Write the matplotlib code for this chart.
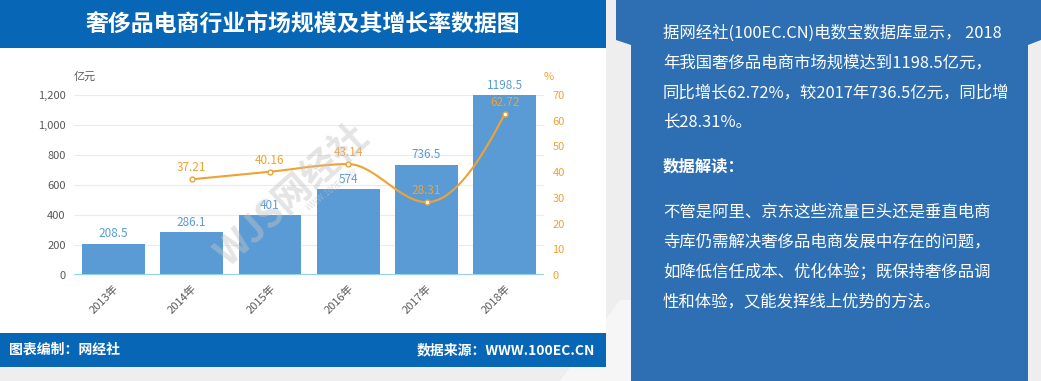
import numpy as np
import matplotlib
matplotlib.use("Agg")
import matplotlib.pyplot as plt
from matplotlib.patches import Rectangle, Polygon

plt.rcParams['font.family'] = ['Noto Sans CJK SC', 'DejaVu Sans']

# 数据
years = ['2013年', '2014年', '2015年', '2016年', '2017年', '2018年']
scale = [208.5, 286.1, 401, 574, 736.5, 1198.5]          # 亿元
growth_years = ['2014年', '2015年', '2016年', '2017年', '2018年']
growth = [37.21, 40.16, 43.14, 28.31, 62.72]              # %
left_ticks = [0, 200, 400, 600, 800, 1000, 1200]
right_ticks = [0, 10, 20, 30, 40, 50, 60, 70]

title = '奢侈品电商行业市场规模及其增长率数据图'
footer_left = '图表编制：网经社'
footer_right = '数据来源：WWW.100EC.CN'
para1 = ['据网经社(100EC.CN)电数宝数据库显示， 2018',
         '年我国奢侈品电商市场规模达到1198.5亿元，',
         '同比增长62.72%，较2017年736.5亿元，同比增',
         '长28.31%。']
subhead = '数据解读：'
para2 = ['不管是阿里、京东这些流量巨头还是垂直电商',
         '寺库仍需解决奢侈品电商发展中存在的问题，',
         '如降低信任成本、优化体验；既保持奢侈品调',
         '性和体验，又能发挥线上优势的方法。']

W, H = 1041, 381
BAR = '#5b9bd5'
ORANGE = '#f0a232'


def pchip(x, y, n=30):
    """保形插值，画平滑折线"""
    x = np.asarray(x, float)
    y = np.asarray(y, float)
    h = np.diff(x)
    delta = np.diff(y) / h
    d = np.zeros_like(y)
    for k in range(1, len(y) - 1):
        if delta[k - 1] * delta[k] > 0:
            w1 = 2 * h[k] + h[k - 1]
            w2 = h[k] + 2 * h[k - 1]
            d[k] = (w1 + w2) / (w1 / delta[k - 1] + w2 / delta[k])
    d[0] = ((2 * h[0] + h[1]) * delta[0] - h[0] * delta[1]) / (h[0] + h[1])
    if d[0] * delta[0] <= 0:
        d[0] = 0
    d[-1] = ((2 * h[-1] + h[-2]) * delta[-1] - h[-1] * delta[-2]) / (h[-1] + h[-2])
    if d[-1] * delta[-1] <= 0:
        d[-1] = 0
    xs, ys = [], []
    for k in range(len(h)):
        t = np.linspace(0, 1, n)
        h00 = 2 * t**3 - 3 * t**2 + 1
        h10 = t**3 - 2 * t**2 + t
        h01 = -2 * t**3 + 3 * t**2
        h11 = t**3 - t**2
        xs.append(x[k] + t * h[k])
        ys.append(h00 * y[k] + h10 * h[k] * d[k] + h01 * y[k + 1] + h11 * h[k] * d[k + 1])
    return np.concatenate(xs), np.concatenate(ys)


fig = plt.figure(figsize=(W / 100, H / 100), dpi=100)
fig.patch.set_facecolor('#eeeeee')

# 背景层，像素坐标
bg = fig.add_axes([0, 0, 1, 1])
bg.set_xlim(0, W)
bg.set_ylim(H, 0)
bg.axis('off')

bg.add_patch(Polygon([(560, 381), (700, 381), (760, 300), (620, 300)], color='white', alpha=0.5, lw=0))
bg.add_patch(Rectangle((0, 0), 606, 367, color='white', lw=0))
bg.add_patch(Rectangle((0, 0), 606, 48, color='#0767b6', lw=0))
bg.add_patch(Rectangle((0, 333), 606, 34, color='#0767b6', lw=0))
bg.text(303, 24, title, color='white', fontsize=16.5, fontweight='bold', ha='center', va='center')
bg.text(9, 350, footer_left, color='white', fontsize=10, fontweight='bold', ha='left', va='center')
bg.text(595, 350, footer_right, color='white', fontsize=10, fontweight='bold', ha='right', va='center')

# 右侧说明框
bg.add_patch(Polygon([(616, 0), (1041, 0), (1041, 40), (1028, 45), (1028, 381),
                      (631, 381), (631, 45), (616, 40)], color='#2e6fb3', lw=0))
for i, line in enumerate(para1):
    bg.text(663, 33 + i * 29.7, line, color='white', fontsize=11.8, ha='left', va='center')
bg.text(663, 167, subhead, color='white', fontsize=11.8, fontweight='bold', ha='left', va='center')
for i, line in enumerate(para2):
    bg.text(663, 212 + i * 29.8, line, color='white', fontsize=11.8, ha='left', va='center')

# 图表
ax = fig.add_axes([74 / W, 1 - 275 / H, 470 / W, 180 / H])
ax.set_facecolor('none')
x = np.arange(len(years))
ax.bar(x, scale, width=0.8, color=BAR, zorder=2)
for xi, v in zip(x, scale):
    ax.text(xi, v + 22, f'{v:g}', color=BAR, fontsize=8.5, ha='center', va='bottom')
ax.set_xlim(-0.5, len(years) - 0.5)
ax.set_ylim(0, 1200)
ax.set_yticks(left_ticks)
ax.set_yticklabels([f'{t:,}' for t in left_ticks])
ax.set_xticks(x)
ax.set_xticklabels(years, rotation=45, ha='right', rotation_mode='anchor')
ax.tick_params(axis='both', length=0, colors='#595959', labelsize=8)
ax.tick_params(axis='x', pad=6)
ax.tick_params(axis='y', pad=6)
for s in ax.spines.values():
    s.set_visible(False)
ax.grid(axis='y', color='#ebebeb', lw=0.8, zorder=0)
ax.axhline(0, color='#8fd3f0', lw=2.2, zorder=3)
ax.text(-0.5, 1290, '亿元', color='#595959', fontsize=8, ha='left', va='bottom')

ax2 = ax.twinx()
ax2.set_ylim(0, 70)
ax2.set_yticks(right_ticks)
ax2.tick_params(axis='y', length=0, colors=ORANGE, labelsize=8, pad=6)
for s in ax2.spines.values():
    s.set_visible(False)
gx = np.array([years.index(y) for y in growth_years])
sx, sy = pchip(gx, growth)
ax2.plot(sx, sy, color=ORANGE, lw=1.5, zorder=4)
ax2.plot(gx, growth, 'o', ms=3.5, mfc='white', mec=ORANGE, mew=1, zorder=5)
for xi, v in zip(gx, growth):
    ax2.text(xi, v + 2.0, f'{v:.2f}', color=ORANGE, fontsize=8.5, ha='center', va='bottom', zorder=5)
ax2.text(5.5, 75, '%', color=ORANGE, fontsize=8, ha='left', va='bottom')

# 水印，盖在图上
fig.text(292 / W, 1 - 195 / H, 'WJS网经社', color='#c4c4c4', alpha=0.45, fontsize=27,
         fontweight='bold', rotation=42, ha='center', va='center', zorder=10)
fig.text(332 / W, 1 - 190 / H, 'WWW.100EC.CN', color='#c4c4c4', alpha=0.5, fontsize=6,
         rotation=38, ha='center', va='center', zorder=10)

fig.savefig('out.png', dpi=100, facecolor=fig.get_facecolor())
